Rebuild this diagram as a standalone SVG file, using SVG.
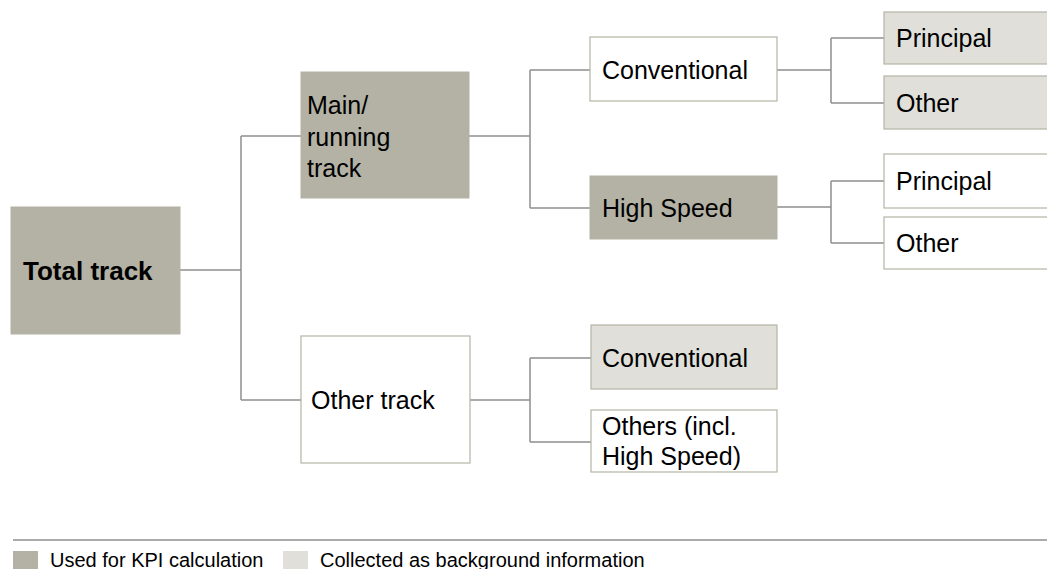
<svg xmlns="http://www.w3.org/2000/svg" width="1047" height="569" viewBox="0 0 1047 569">
<style>
  .kpi { fill: #b3b2a4; stroke: #b3b2a4; stroke-width: 1; }
  .bg { fill: #e0dfd9; stroke: #b5b4a6; stroke-width: 1.2; }
  .wh { fill: #ffffff; stroke: #b5b4a6; stroke-width: 1.2; }
  .t { font-family: "Liberation Sans", Arial, sans-serif; font-size: 25px; fill: #000000; }
  .tb { font-family: "Liberation Sans", Arial, sans-serif; font-size: 26px; font-weight: bold; fill: #000000; }
  .lg { font-family: "Liberation Sans", Arial, sans-serif; font-size: 20px; fill: #000000; }
  .c { fill: none; stroke: #8f8f8f; stroke-width: 1.5; }
</style>
<rect width="1047" height="569" fill="#ffffff"/>
<g id="connectors">
  <path class="c" d="M180,270 H241 M241,136 V400 M241,136 H301 M241,400 H301"/>
  <path class="c" d="M469,136 H530 M530,70 V208 M530,70 H590 M530,208 H590"/>
  <path class="c" d="M777,70 H831 M831,38 V103 M831,38 H884 M831,103 H884"/>
  <path class="c" d="M777,207 H831 M831,181 V243 M831,181 H884 M831,243 H884"/>
  <path class="c" d="M470,400 H530 M530,358 V442 M530,358 H591 M530,442 H591"/>
</g>
<g id="total-track">
  <rect class="kpi" x="11" y="207" width="169" height="127"/>
  <text class="tb" x="23" y="280">Total track</text>
</g>
<g id="main-running-track">
  <rect class="kpi" x="301" y="72" width="168" height="126"/>
  <text class="t" x="307" y="114">Main/</text>
  <text class="t" x="307" y="146">running</text>
  <text class="t" x="307" y="177">track</text>
</g>
<g id="other-track">
  <rect class="wh" x="301" y="336" width="169" height="127"/>
  <text class="t" x="311" y="409">Other track</text>
</g>
<g id="main-conventional">
  <rect class="wh" x="590" y="37" width="187" height="64"/>
  <text class="t" x="602" y="79">Conventional</text>
</g>
<g id="main-high-speed">
  <rect class="kpi" x="590" y="176" width="187" height="63"/>
  <text class="t" x="602" y="217">High Speed</text>
</g>
<g id="other-conventional">
  <rect class="bg" x="591" y="325" width="186" height="64"/>
  <text class="t" x="602" y="367">Conventional</text>
</g>
<g id="other-others">
  <rect class="wh" x="591" y="410" width="186" height="62"/>
  <text class="t" x="602" y="435">Others (incl.</text>
  <text class="t" x="602" y="465">High Speed)</text>
</g>
<g id="conv-principal">
  <rect class="bg" x="884" y="12" width="170" height="52"/>
  <text class="t" x="896" y="47">Principal</text>
</g>
<g id="conv-other">
  <rect class="bg" x="884" y="76" width="170" height="53"/>
  <text class="t" x="896" y="112">Other</text>
</g>
<g id="hs-principal">
  <rect class="wh" x="884" y="154" width="170" height="54"/>
  <text class="t" x="896" y="190">Principal</text>
</g>
<g id="hs-other">
  <rect class="wh" x="884" y="217" width="170" height="52"/>
  <text class="t" x="896" y="252">Other</text>
</g>
<g id="legend">
  <line x1="13" y1="540" x2="1047" y2="540" stroke="#8f8f8f" stroke-width="1.5"/>
  <rect x="13" y="551" width="25" height="20" fill="#b3b2a4"/>
  <text class="lg" x="50" y="567">Used for KPI calculation</text>
  <rect x="283" y="551" width="25" height="20" fill="#e0dfd9"/>
  <text class="lg" x="320" y="567">Collected as background information</text>
</g>
</svg>
